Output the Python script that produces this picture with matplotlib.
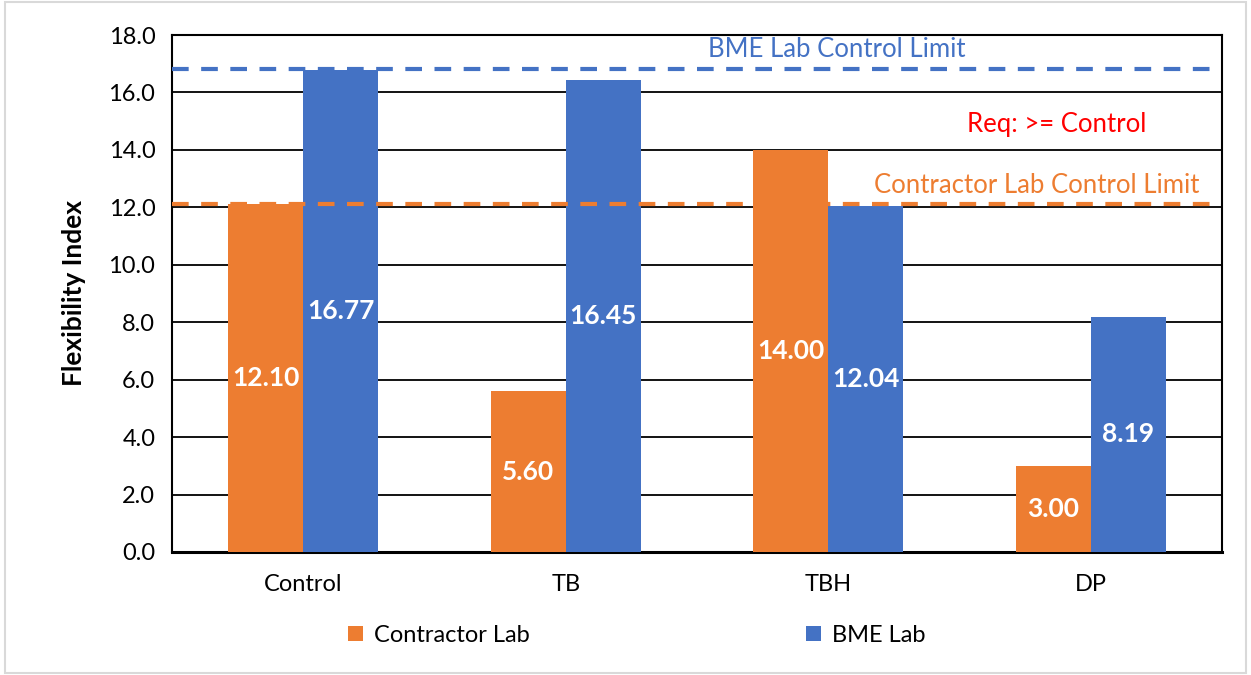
import numpy as np
import matplotlib.pyplot as plt

# data
categories = ['Control', 'TB', 'TBH', 'DP']
contractor = [12.10, 5.60, 14.00, 3.00]
bme = [16.77, 16.45, 12.04, 8.19]
contractor_limit = 12.10
bme_limit = 16.80

orange = '#ED7D31'
blue = '#4472C4'

plt.rcParams['font.family'] = ['Lato', 'DejaVu Sans']

fig = plt.figure(figsize=(12.51, 6.75), dpi=100)
ax = fig.add_axes([172 / 1251, 1 - 552 / 675, 1050 / 1251, 517 / 675])

x = np.arange(len(categories))
w = 0.286
b1 = ax.bar(x - w / 2, contractor, w, color=orange, label='Contractor Lab', zorder=3)
b2 = ax.bar(x + w / 2, bme, w, color=blue, label='BME Lab', zorder=3)

# value labels in the middle of each bar
for bars, vals in [(b1, contractor), (b2, bme)]:
    for r, v in zip(bars, vals):
        ax.text(r.get_x() + r.get_width() / 2, v / 2, f'{v:.2f}', ha='center', va='center',
                color='white', fontsize=19, fontweight='bold', zorder=4)

# control limit lines
ax.axhline(bme_limit, color=blue, lw=3, ls=(0, (4, 3)), zorder=5)
ax.axhline(contractor_limit, color=orange, lw=3, ls=(0, (4, 3)), zorder=5)
ax.text(1.54, 17.5, 'BME Lab Control Limit', color=blue, fontsize=18.5, ha='left', va='center')
ax.text(2.87, 14.87, 'Req: >= Control', color='red', fontsize=18.5, ha='center', va='center')
ax.text(3.415, 12.75, 'Contractor Lab Control Limit', color=orange, fontsize=18.5, ha='right', va='center')

ax.set_xlim(-0.5, 3.5)
ax.set_ylim(0, 18)
ax.set_yticks(np.arange(0, 18.1, 2))
ax.set_yticklabels([f'{t:.1f}' for t in np.arange(0, 18.1, 2)], fontsize=17)
ax.set_xticks(x)
ax.set_xticklabels(categories, fontsize=17)
ax.tick_params(axis='y', length=0, pad=12)
ax.tick_params(axis='x', length=0, pad=16)
ax.grid(axis='y', color='black', lw=1.3, zorder=1)
for s in ax.spines.values():
    s.set_color('black')
    s.set_linewidth(1.5)
ax.spines['bottom'].set_linewidth(2.2)
ax.set_ylabel('Flexibility Index', fontsize=19, fontweight='bold', labelpad=16)

ax.legend(loc='upper center', bbox_to_anchor=(0.443, -0.1), ncol=2, frameon=False, fontsize=17,
          handlelength=0.6, handleheight=0.6, columnspacing=11.7, handletextpad=0.5)

fig.patches.append(plt.Rectangle((0.004, 0.003), 0.992, 0.994, transform=fig.transFigure,
                                 fill=False, edgecolor='#D9D9D9', lw=1.5))

plt.savefig('out.png')
